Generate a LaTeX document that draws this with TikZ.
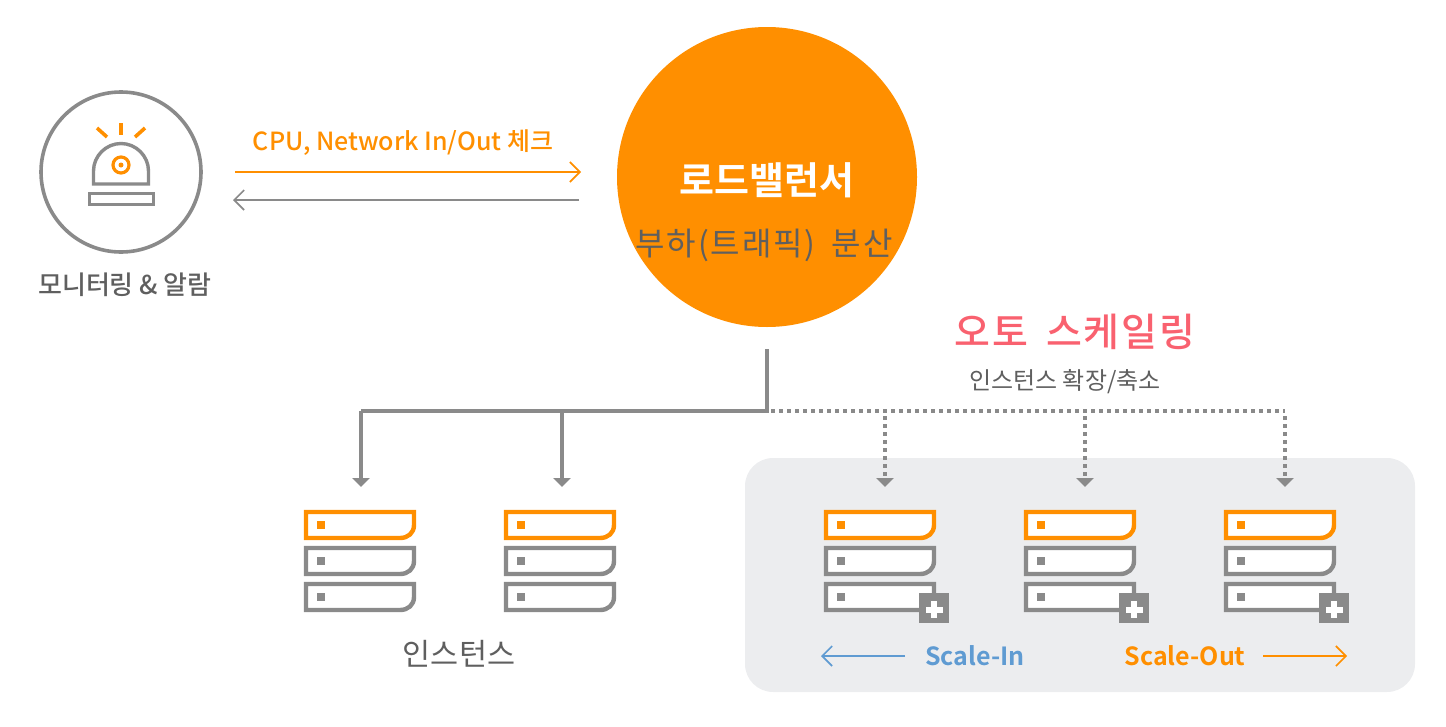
\documentclass[tikz,border=0pt]{standalone}
\usepackage{fontspec}
\setmainfont{Noto Sans CJK KR}
\newfontfamily\krbold{Noto Sans CJK KR Bold}
\newfontfamily\krmedium{Noto Sans CJK KR Medium}
\newfontfamily\krwide[LetterSpace=6]{Noto Sans CJK KR}
\newfontfamily\krwidemedium[LetterSpace=5]{Noto Sans CJK KR Medium}
\usepackage{xcolor}
\usetikzlibrary{positioning, arrows.meta}
\definecolor{lborange}{HTML}{FF8F00}
\definecolor{lbgray}{HTML}{8A8A8A}
\definecolor{lbtext}{HTML}{5F5F5F}
\definecolor{lbpanel}{HTML}{ECEDEF}
\definecolor{lbblue}{HTML}{5F9BD2}
\definecolor{lbpink}{HTML}{F9616F}
\tikzset{
    thinarrow/.style={line width=1.6pt, -{Straight Barb[length=10pt,width=20pt,line width=1.6pt]}},
    trunk/.style={draw=lbgray, line width=4pt},
    trunkarrow/.style={draw=lbgray, line width=4pt, -{Triangle[length=9pt,width=17pt,fill=lbgray]}},
    dotline/.style={draw=lbgray, line width=3.6pt, dash pattern=on 3.6pt off 4.4pt},
    dotarrow/.style={draw=lbgray, line width=3.6pt, dash pattern=on 3.6pt off 4.4pt, -{Triangle[length=9pt,width=17pt,fill=lbgray,sep=0pt]}},
    lbtitle/.style={font=\krmedium\fontsize{25}{25}\selectfont, text=lbtext, inner sep=0pt},
    pics/serverbar/.style={code={
        \draw[draw=#1, fill=white, line width=4.4pt, line join=miter]
            (0,0) -- (108,0) -- (108,13) .. controls (108,21) and (102,26) .. (94,26) -- (0,26) -- cycle;
        \fill[#1] (11,9) rectangle ++(8,8);
    }},
    pics/serverstack/.style={code={
        \pic at (0,0) {serverbar=lborange};
        \pic at (0,36) {serverbar=lbgray};
        \pic at (0,72) {serverbar=lbgray};
    }},
}
\begin{document}
\begin{tikzpicture}[x=1pt,y=-1pt]
    \useasboundingbox (0,0) rectangle (1446,726);
    % panel behind the scaling group
    \fill[lbpanel, rounded corners=28pt] (745,458) rectangle (1415,692);
    % load balancer
    \node[circle, fill=lborange, minimum size=300pt, inner sep=0pt] (balancer) at (767,177) {};
    \node[inner sep=0pt, text=white, font=\krbold\fontsize{38}{38}\selectfont] (balancername) at (767,180) {로드밸런서};
    \node[inner sep=0pt, text=lbtext, font=\krwide\fontsize{32}{32}\selectfont] (balancerjob) at (764,245) {부하(트래픽)\hspace{7pt} 분산};
    % monitoring
    \node[circle, draw=lbgray, line width=3.6pt, minimum size=160pt, inner sep=0pt] (monitor) at (121,172) {};
    \node[lbtitle, font=\krmedium\fontsize{26}{26}\selectfont] (monitorname) at (125,285) {모니터링 \& 알람};
    \draw[lbgray, line width=3.4pt, fill=white] (93.5,184) -- (93.5,171) .. controls (93.5,156) and (106,143.5) .. (121,143.5)
        .. controls (136,143.5) and (148.5,156) .. (148.5,171) -- (148.5,184) -- cycle;
    \draw[lbgray, line width=3.6pt] (89.5,193.5) rectangle (153.5,204.5);
    \draw[lborange, line width=3.2pt] (121,165) circle[radius=8pt];
    \fill[lborange] (121,165) circle[radius=2.5pt];
    \draw[lborange, line width=3.6pt] (121,123) -- (121,135);
    \draw[lborange, line width=3.6pt] (97,128) -- (107,137);
    \draw[lborange, line width=3.6pt] (145,128) -- (135,137);
    % check arrows
    \coordinate (checkfrom) at (235,172);
    \coordinate (checkto) at (581,172);
    \coordinate (replyfrom) at (579,200);
    \coordinate (replyto) at (233,200);
    \draw[thinarrow, lborange] (checkfrom) -- (checkto);
    \draw[thinarrow, lbgray] (replyfrom) -- (replyto);
    \node[inner sep=0pt, text=lborange, font=\krmedium\fontsize{25}{25}\selectfont] (checklabel) at (403,143) {CPU, Network In/Out 체크};
    % titles
    \node[inner sep=0pt, text=lbpink, font=\krwidemedium\fontsize{39}{39}\selectfont] (scaletitle) at (1075,332) {오토\hspace{7pt} 스케일링};
    \node[lbtitle, font=\fontsize{24}{24}\selectfont] (scalesub) at (1065,382) {인스턴스 확장/축소};
    \node[lbtitle, font=\fontsize{30.5}{30.5}\selectfont] (instname) at (459,654) {인스턴스};
    % servers
    \foreach \x in {306,506,826,1026,1226} {
        \pic at (\x,512) {serverstack};
    }
    \foreach \x in {919,1119,1319} {
        \fill[lbgray] (\x,593) rectangle ++(30,30);
        \fill[white] (\x+12,601) rectangle ++(6,17);
        \fill[white] (\x+6.5,606.5) rectangle ++(17,6);
    }
    % connectors
    \coordinate (trunktop) at (767,349);
    \coordinate (trunkjoin) at (767,411);
    \coordinate (leftend) at (361,411);
    \coordinate (leftin) at (361,487);
    \coordinate (midtap) at (562,411);
    \coordinate (midin) at (562,487);
    \draw[trunk, line join=miter] (trunktop) -- (trunkjoin) -- (leftend);
    \draw[trunkarrow] (leftend) -- (leftin);
    \draw[trunkarrow] (midtap) -- (midin);
    \coordinate (dotstart) at (771,411);
    \coordinate (dotend) at (1285,411);
    \draw[dotline] (dotstart) -- (dotend);
    \foreach \x/\n in {885/a,1085/b,1285/c} {
        \coordinate (tap\n) at (\x,416);
        \coordinate (scale\n) at (\x,487);
        \draw[dotarrow] (tap\n) -- (scale\n);
    }
    % scale arrows
    \coordinate (infrom) at (905,656);
    \coordinate (into) at (821,656);
    \coordinate (outfrom) at (1263,656);
    \coordinate (outto) at (1347,656);
    \draw[thinarrow, lbblue] (infrom) -- (into);
    \draw[thinarrow, lborange] (outfrom) -- (outto);
    \node[inner sep=0pt, text=lbblue, font=\krbold\fontsize{25}{25}\selectfont] (scalein) at (975,656) {Scale-In};
    \node[inner sep=0pt, text=lborange, font=\krbold\fontsize{25}{25}\selectfont] (scaleout) at (1185,656) {Scale-Out};
\end{tikzpicture}
\end{document}
